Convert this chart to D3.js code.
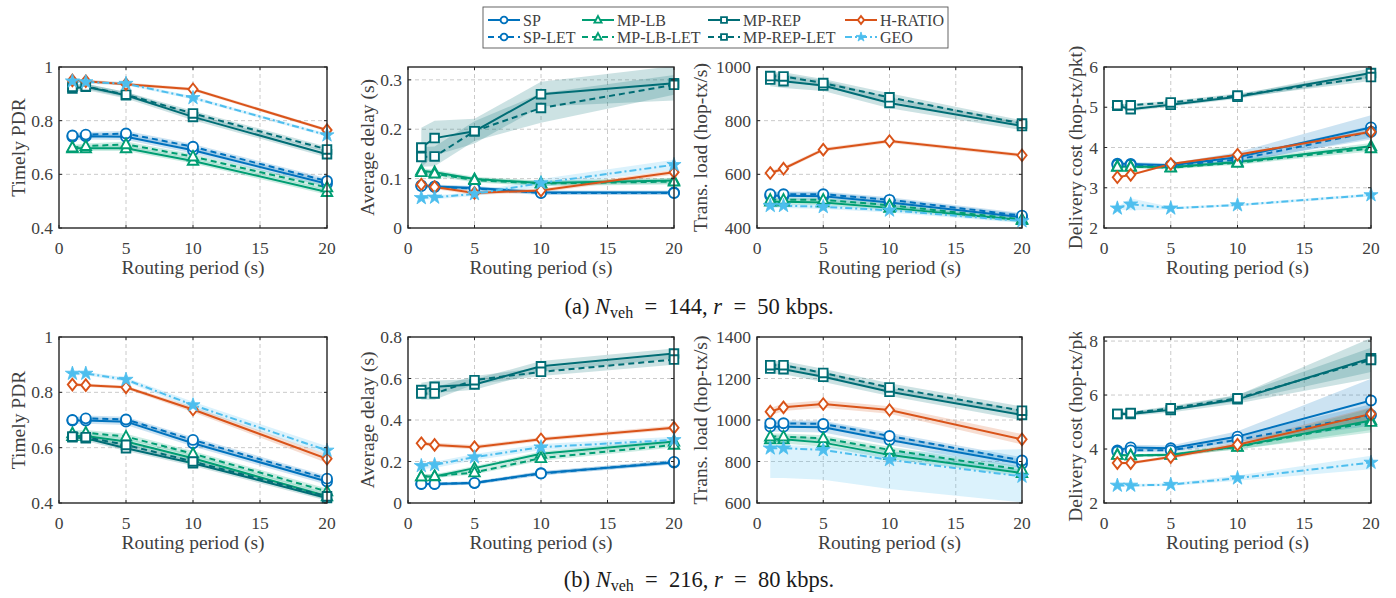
<!DOCTYPE html>
<html><head><meta charset="utf-8">
<script src="https://cdn.jsdelivr.net/npm/d3@7"></script>
<style>
body{margin:0;background:#fff}
svg{display:block}
text{font-family:"Liberation Serif","Times New Roman",serif}
</style>
</head><body>
<svg id="c" width="1396" height="598"></svg>
<script>
// ---------------- DATA ----------------
const xVals = [1, 2, 5, 10, 20];
const xTicks = [0, 5, 10, 15, 20];
const seriesNames = ['SP','SP-LET','MP-LB','MP-LB-LET','MP-REP','MP-REP-LET','H-RATIO','GEO'];
const legendRow1 = ['SP','MP-LB','MP-REP','H-RATIO'];
const legendRow2 = ['SP-LET','MP-LB-LET','MP-REP-LET','GEO'];
const xLabel = 'Routing period (s)';
const yLabels = ['Timely PDR','Average delay (s)','Trans. load (hop-tx/s)','Delivery cost (hop-tx/pkt)'];

// (a) N=144, r=50 kbps
const pdrA = {
  'SP':[0.740,0.742,0.740,0.690,0.565], 'SP-LET':[0.745,0.748,0.752,0.703,0.575],
  'MP-LB':[0.697,0.697,0.697,0.650,0.534], 'MP-LB-LET':[0.700,0.705,0.712,0.666,0.551],
  'MP-REP':[0.920,0.926,0.895,0.814,0.675], 'MP-REP-LET':[0.926,0.928,0.897,0.827,0.693],
  'H-RATIO':[0.950,0.947,0.936,0.917,0.765], 'GEO':[0.947,0.944,0.938,0.885,0.746]};
const pdrABand = {
  'SP':[0.012,0.012,0.012,0.012,0.012], 'SP-LET':[0.01,0.01,0.01,0.01,0.01],
  'MP-LB':[0.01,0.01,0.01,0.01,0.01], 'MP-LB-LET':[0.01,0.01,0.01,0.01,0.01],
  'MP-REP':[0.012,0.012,0.012,0.012,0.012], 'MP-REP-LET':[0.01,0.01,0.01,0.01,0.01],
  'H-RATIO':[0.006,0.006,0.006,0.006,0.006], 'GEO':[0.006,0.006,0.006,0.006,0.006]};

const delayA = {
  'SP':[0.086,0.084,0.081,0.072,0.072], 'SP-LET':[0.085,0.083,0.080,0.071,0.071],
  'MP-LB':[0.116,0.113,0.099,0.091,0.096], 'MP-LB-LET':[0.113,0.110,0.097,0.090,0.094],
  'MP-REP':[0.163,0.182,0.196,0.271,0.293], 'MP-REP-LET':[0.144,0.145,0.196,0.243,0.290],
  'H-RATIO':[0.088,0.083,0.071,0.076,0.113], 'GEO':[0.061,0.062,0.069,0.091,0.128]};
const delayABand = {
  'SP':[0.004,0.004,0.004,0.004,0.004], 'SP-LET':[0.004,0.004,0.004,0.004,0.004],
  'MP-LB':[0.005,0.005,0.005,0.005,0.006], 'MP-LB-LET':[0.005,0.005,0.005,0.005,0.006],
  'MP-REP':[0.04,0.035,0.025,0.025,0.035], 'MP-REP-LET':[0.02,0.02,0.02,0.03,0.02],
  'H-RATIO':[0.004,0.004,0.004,0.004,0.005], 'GEO':[0.004,0.004,0.004,0.008,0.01]};

const loadA = {
  'SP':[520,520,518,495,440], 'SP-LET':[526,526,526,505,446],
  'MP-LB':[498,498,495,475,429], 'MP-LB-LET':[505,505,505,485,432],
  'MP-REP':[953,947,931,866,780], 'MP-REP-LET':[966,965,940,887,789],
  'H-RATIO':[605,621,692,724,671], 'GEO':[483,483,479,466,426]};
const loadABand = {
  'SP':[14,14,14,14,12], 'SP-LET':[10,10,10,10,10],
  'MP-LB':[10,10,10,10,8], 'MP-LB-LET':[8,8,8,8,8],
  'MP-REP':[25,25,20,20,15], 'MP-REP-LET':[15,15,15,15,12],
  'H-RATIO':[7,7,7,7,7], 'GEO':[8,8,8,8,8]};

const costA = {
  'SP':[3.60,3.59,3.56,3.76,4.50], 'SP-LET':[3.57,3.57,3.55,3.70,4.39],
  'MP-LB':[3.53,3.53,3.51,3.64,4.03], 'MP-LB-LET':[3.52,3.52,3.50,3.62,3.98],
  'MP-REP':[5.04,4.95,5.06,5.26,5.85], 'MP-REP-LET':[5.05,5.05,5.12,5.29,5.75],
  'H-RATIO':[3.26,3.32,3.59,3.82,4.39], 'GEO':[2.49,2.59,2.49,2.57,2.82]};
const costABand = {
  'SP':[0.05,0.05,0.05,0.12,0.3], 'SP-LET':[0.04,0.04,0.04,0.08,0.15],
  'MP-LB':[0.04,0.04,0.04,0.05,0.08], 'MP-LB-LET':[0.04,0.04,0.04,0.05,0.08],
  'MP-REP':[0.05,0.05,0.05,0.05,0.12], 'MP-REP-LET':[0.04,0.04,0.04,0.05,0.1],
  'H-RATIO':[0.03,0.03,0.03,0.03,0.04], 'GEO':[0.03,0.15,0.03,0.03,0.04]};

// (b) N=216, r=80 kbps
const pdrB = {
  'SP':[0.698,0.698,0.694,0.616,0.478], 'SP-LET':[0.700,0.706,0.702,0.628,0.488],
  'MP-LB':[0.642,0.642,0.622,0.562,0.424], 'MP-LB-LET':[0.652,0.654,0.640,0.578,0.442],
  'MP-REP':[0.638,0.634,0.598,0.544,0.418], 'MP-REP-LET':[0.640,0.638,0.610,0.550,0.424],
  'H-RATIO':[0.828,0.826,0.818,0.738,0.560], 'GEO':[0.868,0.868,0.846,0.754,0.590]};
const pdrBBand = {
  'SP':[0.012,0.012,0.012,0.012,0.012], 'SP-LET':[0.01,0.01,0.01,0.01,0.01],
  'MP-LB':[0.012,0.012,0.012,0.012,0.012], 'MP-LB-LET':[0.01,0.01,0.01,0.01,0.01],
  'MP-REP':[0.01,0.01,0.01,0.01,0.01], 'MP-REP-LET':[0.008,0.008,0.008,0.008,0.008],
  'H-RATIO':[0.006,0.006,0.006,0.01,0.015], 'GEO':[0.006,0.006,0.008,0.012,0.015]};

const delayB = {
  'SP':[0.091,0.091,0.096,0.144,0.195], 'SP-LET':[0.092,0.092,0.097,0.142,0.198],
  'MP-LB':[0.128,0.128,0.168,0.237,0.296], 'MP-LB-LET':[0.128,0.130,0.147,0.216,0.280],
  'MP-REP':[0.544,0.560,0.571,0.659,0.720], 'MP-REP-LET':[0.528,0.528,0.592,0.632,0.691],
  'H-RATIO':[0.288,0.280,0.269,0.307,0.363], 'GEO':[0.179,0.184,0.221,0.269,0.304]};
const delayBBand = {
  'SP':[0.008,0.008,0.008,0.01,0.01], 'SP-LET':[0.008,0.008,0.008,0.01,0.01],
  'MP-LB':[0.01,0.01,0.01,0.012,0.012], 'MP-LB-LET':[0.01,0.01,0.01,0.012,0.012],
  'MP-REP':[0.035,0.03,0.025,0.025,0.025], 'MP-REP-LET':[0.03,0.03,0.02,0.02,0.025],
  'H-RATIO':[0.01,0.01,0.01,0.01,0.01], 'GEO':[0.015,0.015,0.015,0.015,0.015]};

const loadB = {
  'SP':[968,968,965,904,789], 'SP-LET':[984,984,981,923,805],
  'MP-LB':[907,907,891,832,744], 'MP-LB-LET':[920,920,912,856,760],
  'MP-REP':[1248,1245,1208,1136,1024], 'MP-REP-LET':[1264,1264,1227,1157,1045],
  'H-RATIO':[1040,1061,1077,1048,907], 'GEO':[864,864,856,808,728]};
const loadBBand = {
  'SP':[25,25,25,25,20], 'SP-LET':[15,15,15,15,15],
  'MP-LB':[20,20,20,20,15], 'MP-LB-LET':[15,15,15,15,15],
  'MP-REP':[25,25,25,20,25], 'MP-REP-LET':[20,20,20,20,20],
  'H-RATIO':[18,18,18,18,25], 'GEO':null};
const loadBGeoLo = [720,720,712,667,603];
const loadBGeoHi = [880,880,872,845,860];

const costB = {
  'SP':[3.95,4.06,4.03,4.46,5.80], 'SP-LET':[3.91,3.95,3.95,4.34,5.26],
  'MP-LB':[3.79,3.76,3.79,4.09,5.06], 'MP-LB-LET':[3.78,3.76,3.78,4.08,5.00],
  'MP-REP':[5.30,5.30,5.45,5.84,7.36], 'MP-REP-LET':[5.30,5.33,5.51,5.88,7.30],
  'H-RATIO':[3.48,3.48,3.70,4.16,5.30], 'GEO':[2.65,2.65,2.68,2.92,3.50]};
const costBBand = {
  'SP':[0.08,0.1,0.1,0.2,0.8], 'SP-LET':[0.06,0.06,0.08,0.15,0.4],
  'MP-LB':[0.05,0.05,0.06,0.1,0.45], 'MP-LB-LET':[0.05,0.05,0.05,0.1,0.3],
  'MP-REP':[0.08,0.08,0.1,0.15,0.75], 'MP-REP-LET':[0.06,0.06,0.08,0.12,0.45],
  'H-RATIO':[0.05,0.05,0.06,0.1,0.25], 'GEO':[0.05,0.05,0.05,0.1,0.25]};

// y axes
const yDomains = [[0.4,1],[0,0.326],[400,1000],[2,6],[0.4,1],[0,0.8],[600,1400],[2,8.15]];
const yTicks = [[0.4,0.6,0.8,1],[0,0.1,0.2,0.3],[400,600,800,1000],[2,3,4,5,6],
                [0.4,0.6,0.8,1],[0,0.2,0.4,0.6,0.8],[600,800,1000,1200,1400],[2,4,6,8]];
const captionA = ['(a) ', 'N', 'veh', '\u2002=\u2002144, ', 'r', '\u2002=\u200250 kbps.'];
const captionB = ['(b) ', 'N', 'veh', '\u2002=\u2002216, ', 'r', '\u2002=\u200280 kbps.'];

// ---------------- STYLE ----------------
const style = {
  'SP':{c:'#0072BD',dash:null,m:'circle'},
  'SP-LET':{c:'#0072BD',dash:'6,4',m:'circle'},
  'MP-LB':{c:'#009E73',dash:null,m:'triangle'},
  'MP-LB-LET':{c:'#009E73',dash:'6,4',m:'triangle'},
  'MP-REP':{c:'#006D75',dash:null,m:'square'},
  'MP-REP-LET':{c:'#006D75',dash:'6,4',m:'square'},
  'H-RATIO':{c:'#D95319',dash:null,m:'diamond'},
  'GEO':{c:'#4DBEEE',dash:'7,3,2,3',m:'star'}
};
const colX = [[59,327],[408,674],[757,1022],[1104,1371]];
const rowY = [[67,228],[337,503]];
const yLabOff = [41,41,57,29];
const textCol = '#404040';
const axisCol = '#262626';

const panels = [
  {v:pdrA,b:pdrABand},{v:delayA,b:delayABand},{v:loadA,b:loadABand},{v:costA,b:costABand},
  {v:pdrB,b:pdrBBand},{v:delayB,b:delayBBand},{v:loadB,b:loadBBand,geo:[loadBGeoLo,loadBGeoHi]},{v:costB,b:costBBand}
];

const svg = d3.select('#c');
svg.append('clipPath').attr('id','clipLab').append('rect')
  .attr('x',0).attr('y',332).attr('width',1396).attr('height',266);

function markerPath(type, k){
  if(type==='circle') return d3.symbol(d3.symbolCircle, Math.PI*25*k*k)();
  if(type==='triangle'){const r=5.2*k;return `M0,${-r*1.1}L${r},${r*0.75}L${-r},${r*0.75}Z`;}
  if(type==='square'){const r=4.3*k;return `M${-r},${-r}H${r}V${r}H${-r}Z`;}
  if(type==='diamond'){const w=4.6*k,h=5.8*k;return `M0,${-h}L${w},0L0,${h}L${-w},0Z`;}
  if(type==='star') return d3.symbol(d3.symbolStar, 62*k*k)();
}
function drawMarker(g, name, x, y, k){
  const s = style[name];
  const filled = s.m==='star';
  g.append('path').attr('d', markerPath(s.m,k))
    .attr('transform',`translate(${x},${y})`)
    .attr('fill', filled ? s.c : '#fff')
    .attr('stroke', s.c).attr('stroke-width', filled?0.8:1.9)
    .attr('stroke-linejoin','miter');
}

panels.forEach((p, i) => {
  const col = i % 4, row = Math.floor(i/4);
  const [x0,x1] = colX[col], [y0,y1] = rowY[row];
  const xs = d3.scaleLinear().domain([0,20]).range([x0,x1]);
  const ys = d3.scaleLinear().domain(yDomains[i]).range([y1,y0]);
  const g = svg.append('g');
  const clipId = 'clip'+i;
  svg.append('clipPath').attr('id',clipId).append('rect')
    .attr('x',x0).attr('y',y0).attr('width',x1-x0).attr('height',y1-y0);

  // grid
  const grid = g.append('g').attr('stroke','#c4c4c4').attr('stroke-width',0.9).attr('stroke-dasharray','4,3');
  xTicks.forEach(t=>{ if(t>0&&t<20) grid.append('line').attr('x1',xs(t)).attr('x2',xs(t)).attr('y1',y0).attr('y2',y1);});
  yTicks[i].forEach(t=>{ const yy=ys(t); if(yy>y0+1&&yy<y1-1) grid.append('line').attr('x1',x0).attr('x2',x1).attr('y1',yy).attr('y2',yy);});

  // bands
  const bandG = g.append('g').attr('clip-path',`url(#${clipId})`);
  const area = d3.area().x(d=>xs(d.x)).y0(d=>ys(d.lo)).y1(d=>ys(d.hi));
  seriesNames.forEach(n=>{
    const vals = p.v[n];
    let pts;
    if(n==='GEO' && p.geo){
      pts = xVals.map((x,j)=>({x, lo:p.geo[0][j], hi:p.geo[1][j]}));
    } else {
      const b = p.b[n];
      pts = xVals.map((x,j)=>({x, lo:vals[j]-b[j], hi:vals[j]+b[j]}));
    }
    bandG.append('path').attr('d',area(pts)).attr('fill',style[n].c).attr('fill-opacity',0.2).attr('stroke','none');
  });

  // lines + markers
  const lineG = g.append('g').attr('clip-path',`url(#${clipId})`);
  const line = d3.line().x(d=>xs(d[0])).y(d=>ys(d[1]));
  const markG = g.append('g');
  seriesNames.forEach(n=>{
    const s = style[n];
    const pts = xVals.map((x,j)=>[x,p.v[n][j]]);
    lineG.append('path').attr('d',line(pts)).attr('fill','none').attr('stroke',s.c)
      .attr('stroke-width',2).attr('stroke-dasharray',s.dash);
  });
  seriesNames.forEach(n=>{
    xVals.forEach((x,j)=>drawMarker(markG,n,xs(x),ys(p.v[n][j]),1));
  });

  // axes box + ticks
  const ax = g.append('g');
  ax.append('rect').attr('x',x0).attr('y',y0).attr('width',x1-x0).attr('height',y1-y0)
    .attr('fill','none').attr('stroke',axisCol).attr('stroke-width',1.4);
  xTicks.forEach(t=>{
    ax.append('line').attr('x1',xs(t)).attr('x2',xs(t)).attr('y1',y1).attr('y2',y1-3).attr('stroke',axisCol);
    ax.append('line').attr('x1',xs(t)).attr('x2',xs(t)).attr('y1',y0).attr('y2',y0+3).attr('stroke',axisCol);
    ax.append('text').attr('x',xs(t)).attr('y',y1+26).attr('text-anchor','middle')
      .attr('font-size',17.5).attr('fill',textCol).text(t);
  });
  yTicks[i].forEach(t=>{
    const yy = ys(t);
    ax.append('line').attr('x1',x0).attr('x2',x0+3).attr('y1',yy).attr('y2',yy).attr('stroke',axisCol);
    ax.append('line').attr('x1',x1).attr('x2',x1-3).attr('y1',yy).attr('y2',yy).attr('stroke',axisCol);
    ax.append('text').attr('x',x0-6).attr('y',yy).attr('dy','0.35em').attr('text-anchor','end')
      .attr('font-size',17.5).attr('fill',textCol).text(d3.format('~g')(t));
  });
  ax.append('text').attr('x',(x0+x1)/2).attr('y',y1+46).attr('text-anchor','middle')
    .attr('font-size',19.5).attr('fill',textCol).text(xLabel);
  const lx = x0 - yLabOff[col], ly = (y0+y1)/2;
  const yl = ax.append('text').attr('transform',`translate(${lx},${ly}) rotate(-90)`).attr('dy','0.35em')
    .attr('text-anchor','middle').attr('font-size',19.5).attr('fill',textCol).text(yLabels[col]);
  if(row===1 && col===3){
    ax.append('g').attr('clip-path','url(#clipLab)').node().appendChild(yl.node());
  }
});

// legend
const lg = svg.append('g');
lg.append('rect').attr('x',483).attr('y',7).attr('width',465).attr('height',41)
  .attr('fill','#fff').attr('stroke','#555').attr('stroke-width',0.9);
const legColX = [488,582,708,845];
const legRowY = [20,37];
[legendRow1, legendRow2].forEach((rowNames, r)=>{
  rowNames.forEach((n,c)=>{
    const s = style[n];
    const lx = legColX[c], ly = legRowY[r];
    lg.append('line').attr('x1',lx).attr('x2',lx+32).attr('y1',ly).attr('y2',ly)
      .attr('stroke',s.c).attr('stroke-width',2).attr('stroke-dasharray',s.dash);
    drawMarker(lg,n,lx+16,ly,0.68);
    lg.append('text').attr('x',lx+35).attr('y',ly).attr('dy','0.35em').attr('font-size',16)
      .attr('fill',textCol).text(n);
  });
});

// captions
function caption(parts, y){
  const t = svg.append('text').attr('x',699).attr('y',y).attr('text-anchor','middle')
    .attr('font-size',22.5).attr('fill','#1a1a1a');
  t.append('tspan').text(parts[0]);
  t.append('tspan').attr('font-style','italic').text(parts[1]);
  t.append('tspan').attr('font-size',16).attr('dy',4).text(parts[2]);
  t.append('tspan').attr('dy',-4).text(parts[3]);
  t.append('tspan').attr('font-style','italic').text(parts[4]);
  t.append('tspan').text(parts[5]);
}
caption(captionA, 314);
caption(captionB, 587);
</script>
</body></html>
